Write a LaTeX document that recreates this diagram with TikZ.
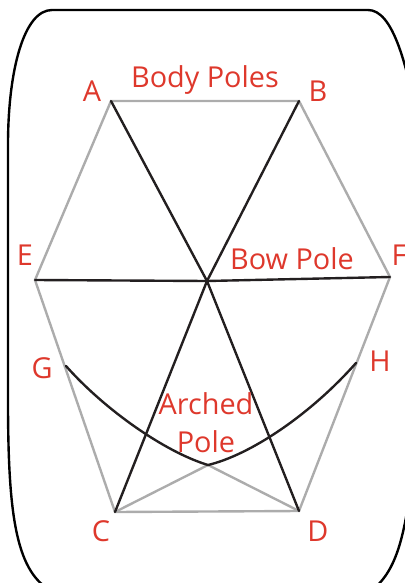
\documentclass[tikz,border=0pt]{standalone}
\usepackage{fontspec}
\setmainfont{Open Sans}
\definecolor{polered}{RGB}{222,56,44}
\definecolor{bodygrey}{RGB}{172,172,172}
\definecolor{polesblack}{RGB}{35,31,32}
\begin{document}
\begin{tikzpicture}[x=0.025cm,y=-0.025cm,line cap=round,line join=round,
  lbl/.style={text=polered,font=\fontsize{20.5}{27}\selectfont,inner sep=0pt,align=center},
  bodypole/.style={draw=bodygrey,line width=1.7pt},
  mainpole/.style={draw=polesblack,line width=1.7pt}]
\useasboundingbox (0,0) rectangle (405,583);
\clip (0,0) rectangle (405,583);
% outline of the tent
\draw[black,line width=1.7pt] (422,150) .. controls (408,60) and (392,10) .. (368,10) -- (52,10) .. controls (24,10) and (8,70) .. (8,145) -- (8,400) .. controls (8,510) and (15,570) .. (50,590) (372,590) .. controls (398,570) and (408,530) .. (415,440);
% pole ends
\coordinate (a) at (111,101);
\coordinate (b) at (299,101);
\coordinate (e) at (35,280);
\coordinate (f) at (390,277);
\coordinate (c) at (115,512);
\coordinate (d) at (299,511);
\coordinate (g) at (66,366);
\coordinate (h) at (356,363);
\coordinate (mid) at (207,281);
\coordinate (low) at (208,465);
% body poles
\draw[bodypole] (a) -- (b) -- (f) -- (d) -- (c) -- (e) -- cycle;
\draw[bodypole] (c) -- (low) -- (d);
% bow poles
\draw[mainpole] (a) -- (mid) -- (d);
\draw[mainpole] (b) -- (mid) -- (c);
\draw[mainpole] (e) -- (mid) -- (f);
% arched pole
\draw[mainpole] (g) .. controls (105,410) and (165,452) .. (low) .. controls (250,455) and (310,415) .. (h);
% labels
\node[lbl] (la) at (92,91) {A};
\node[lbl] (lb) at (318,91) {B};
\node[lbl] (le) at (25,255) {E};
\node[lbl] (lf) at (399,255) {F};
\node[lbl] (lg) at (42,368) {G};
\node[lbl] (lh) at (380,361) {H};
\node[lbl] (lc) at (101,531) {C};
\node[lbl] (ld) at (318,531) {D};
\node[lbl] (lbody) at (205,80) {Body Poles};
\node[lbl] (lbow) at (292,259) {Bow Pole};
\node[lbl] (larch) at (206,423) {Arched\\Pole};
\end{tikzpicture}
\end{document}
